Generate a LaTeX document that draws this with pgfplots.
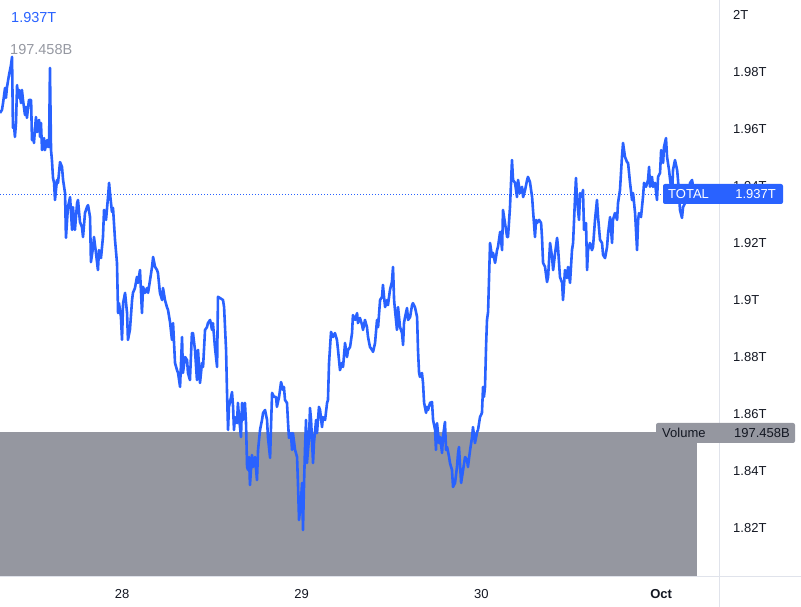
\documentclass[border=0pt]{standalone}
\usepackage{pgfplots}
\usepackage{pgfplotstable}
\usepackage{fontspec}
\setmainfont{Liberation Sans}
\pgfplotsset{compat=1.18}

\definecolor{lineblue}{HTML}{2962FF}
\definecolor{volgray}{RGB}{149,151,160}
\definecolor{textdark}{HTML}{131722}
\definecolor{sepgray}{HTML}{E0E3EB}
\definecolor{topgray}{HTML}{9598A1}

% total market cap, day of month vs trillions
\pgfplotstableread{
d v
27.321 1.9656
27.332 1.9667
27.338 1.9691
27.349 1.9744
27.354 1.9709
27.360 1.9747
27.371 1.9789
27.382 1.9824
27.388 1.9853
27.393 1.9604
27.399 1.9614
27.404 1.9572
27.410 1.9621
27.416 1.9754
27.421 1.9709
27.427 1.9737
27.438 1.9691
27.443 1.9737
27.449 1.9702
27.460 1.9649
27.466 1.9677
27.471 1.9639
27.482 1.9702
27.494 1.9702
27.499 1.9561
27.505 1.9579
27.510 1.9551
27.521 1.9642
27.527 1.9589
27.538 1.9632
27.544 1.9572
27.549 1.9621
27.555 1.9526
27.566 1.9568
27.571 1.9526
27.583 1.9561
27.588 1.9537
27.594 1.9537
27.599 1.9814
27.605 1.9526
27.610 1.9491
27.616 1.9428
27.622 1.9411
27.627 1.9351
27.638 1.9421
27.644 1.9411
27.655 1.9484
27.666 1.9467
27.672 1.9421
27.683 1.9375
27.688 1.9218
27.699 1.9326
27.711 1.9361
27.722 1.9246
27.727 1.9326
27.738 1.9246
27.750 1.9340
27.755 1.9351
27.766 1.9274
27.777 1.9256
27.783 1.9221
27.794 1.9305
27.805 1.9326
27.811 1.9333
27.822 1.9291
27.827 1.9133
27.839 1.9186
27.844 1.9221
27.855 1.9165
27.866 1.9105
27.872 1.9175
27.883 1.9147
27.894 1.9221
27.900 1.9316
27.911 1.9281
27.922 1.9361
27.928 1.9411
27.933 1.9375
27.944 1.9309
27.950 1.9323
27.961 1.9211
27.972 1.9130
27.978 1.8954
27.983 1.8989
27.994 1.8940
28.000 1.8860
28.006 1.8989
28.017 1.9025
28.028 1.8954
28.033 1.8860
28.044 1.8895
28.056 1.9000
28.061 1.9025
28.072 1.9042
28.083 1.9081
28.089 1.9060
28.100 1.9105
28.111 1.8954
28.117 1.9046
28.128 1.9025
28.139 1.9042
28.145 1.9025
28.156 1.9070
28.167 1.9116
28.173 1.9151
28.184 1.9116
28.195 1.9105
28.200 1.9095
28.211 1.9025
28.223 1.9000
28.228 1.9042
28.239 1.9000
28.250 1.8975
28.256 1.8965
28.267 1.8923
28.278 1.8860
28.284 1.8919
28.295 1.8779
28.306 1.8754
28.312 1.8744
28.323 1.8695
28.334 1.8870
28.339 1.8744
28.351 1.8800
28.362 1.8789
28.367 1.8744
28.378 1.8719
28.389 1.8884
28.395 1.8884
28.406 1.8825
28.417 1.8719
28.423 1.8825
28.434 1.8709
28.445 1.8779
28.451 1.8765
28.462 1.8895
28.473 1.8905
28.478 1.8919
28.490 1.8930
28.501 1.8895
28.506 1.8919
28.517 1.8835
28.529 1.8765
28.534 1.9011
28.545 1.9007
28.562 1.9000
28.568 1.8975
28.579 1.8825
28.584 1.8684
28.590 1.8544
28.595 1.8625
28.607 1.8660
28.612 1.8677
28.618 1.8625
28.623 1.8544
28.629 1.8589
28.640 1.8568
28.645 1.8639
28.651 1.8589
28.662 1.8519
28.668 1.8639
28.673 1.8579
28.684 1.8639
28.690 1.8568
28.696 1.8414
28.701 1.8404
28.707 1.8449
28.712 1.8351
28.723 1.8456
28.729 1.8414
28.740 1.8449
28.751 1.8368
28.757 1.8474
28.768 1.8544
28.779 1.8579
28.785 1.8604
28.796 1.8614
28.807 1.8579
28.812 1.8519
28.824 1.8446
28.829 1.8554
28.835 1.8674
28.846 1.8660
28.857 1.8660
28.862 1.8625
28.874 1.8660
28.879 1.8684
28.885 1.8712
28.896 1.8684
28.901 1.8695
28.907 1.8649
28.918 1.8639
28.924 1.8568
28.929 1.8516
28.940 1.8533
28.946 1.8474
28.951 1.8533
28.963 1.8474
28.974 1.8449
28.979 1.8358
28.985 1.8228
28.996 1.8298
29.002 1.8358
29.007 1.8193
29.013 1.8358
29.018 1.8474
29.024 1.8579
29.029 1.8428
29.041 1.8519
29.046 1.8621
29.052 1.8579
29.063 1.8428
29.068 1.8498
29.080 1.8579
29.085 1.8533
29.096 1.8625
29.102 1.8614
29.113 1.8554
29.118 1.8589
29.130 1.8579
29.141 1.8639
29.146 1.8649
29.152 1.8779
29.163 1.8888
29.174 1.8870
29.185 1.8884
29.196 1.8860
29.202 1.8825
29.213 1.8754
29.224 1.8779
29.230 1.8765
29.241 1.8849
29.252 1.8800
29.258 1.8825
29.269 1.8835
29.280 1.8884
29.285 1.8947
29.297 1.8930
29.308 1.8954
29.313 1.8919
29.324 1.8937
29.336 1.8912
29.341 1.8895
29.352 1.8930
29.363 1.8905
29.369 1.8870
29.380 1.8835
29.391 1.8825
29.397 1.8818
29.408 1.8849
29.419 1.8930
29.425 1.8905
29.436 1.9000
29.447 1.9011
29.452 1.9053
29.458 1.9011
29.464 1.8975
29.475 1.9000
29.480 1.8982
29.491 1.9035
29.502 1.9063
29.508 1.9116
29.514 1.9000
29.519 1.8965
29.530 1.8895
29.536 1.8975
29.547 1.8905
29.558 1.8884
29.564 1.8842
29.569 1.8919
29.575 1.8940
29.586 1.8972
29.592 1.8930
29.603 1.8940
29.614 1.8982
29.619 1.8989
29.630 1.8975
29.642 1.8940
29.647 1.8825
29.653 1.8744
29.658 1.8730
29.669 1.8744
29.675 1.8709
29.681 1.8639
29.692 1.8604
29.697 1.8625
29.703 1.8614
29.714 1.8639
29.725 1.8642
29.731 1.8579
29.742 1.8544
29.747 1.8474
29.753 1.8568
29.764 1.8498
29.770 1.8519
29.781 1.8463
29.786 1.8519
29.797 1.8572
29.803 1.8474
29.809 1.8484
29.820 1.8449
29.825 1.8428
29.836 1.8404
29.842 1.8344
29.853 1.8358
29.864 1.8414
29.870 1.8463
29.875 1.8484
29.887 1.8358
29.892 1.8379
29.898 1.8404
29.909 1.8449
29.920 1.8439
29.925 1.8414
29.937 1.8474
29.948 1.8519
29.953 1.8554
29.964 1.8498
29.976 1.8537
29.981 1.8544
29.992 1.8589
30.003 1.8604
30.009 1.8695
30.014 1.8660
30.020 1.8695
30.026 1.8842
30.031 1.8930
30.037 1.8958
30.048 1.9200
30.059 1.9151
30.065 1.9165
30.076 1.9130
30.087 1.9175
30.092 1.9186
30.104 1.9239
30.115 1.9175
30.120 1.9316
30.131 1.9270
30.143 1.9221
30.148 1.9221
30.159 1.9326
30.170 1.9491
30.176 1.9421
30.187 1.9411
30.198 1.9361
30.204 1.9421
30.215 1.9375
30.226 1.9397
30.232 1.9361
30.243 1.9386
30.254 1.9421
30.259 1.9432
30.270 1.9414
30.282 1.9361
30.287 1.9316
30.298 1.9221
30.304 1.9281
30.309 1.9270
30.321 1.9281
30.332 1.9270
30.337 1.9221
30.343 1.9130
30.354 1.9116
30.365 1.9063
30.371 1.9081
30.382 1.9200
30.393 1.9151
30.399 1.9105
30.410 1.9165
30.421 1.9218
30.426 1.9186
30.437 1.9081
30.449 1.9060
30.454 1.9000
30.465 1.9105
30.476 1.9077
30.482 1.9116
30.493 1.9060
30.504 1.9175
30.510 1.9200
30.521 1.9361
30.526 1.9428
30.532 1.9351
30.543 1.9281
30.549 1.9375
30.560 1.9361
30.565 1.9386
30.571 1.9246
30.582 1.9270
30.588 1.9105
30.593 1.9175
30.604 1.9200
30.615 1.9175
30.621 1.9186
30.632 1.9281
30.643 1.9351
30.649 1.9291
30.660 1.9211
30.671 1.9200
30.677 1.9158
30.688 1.9147
30.699 1.9186
30.705 1.9235
30.716 1.9291
30.727 1.9200
30.732 1.9281
30.743 1.9305
30.755 1.9281
30.760 1.9340
30.771 1.9386
30.782 1.9502
30.788 1.9551
30.799 1.9502
30.810 1.9484
30.816 1.9481
30.827 1.9411
30.838 1.9351
30.844 1.9375
30.855 1.9305
30.866 1.9175
30.872 1.9281
30.877 1.9305
30.888 1.9291
30.899 1.9361
30.905 1.9411
30.916 1.9397
30.927 1.9421
30.933 1.9467
30.938 1.9397
30.949 1.9432
30.955 1.9397
30.966 1.9411
30.977 1.9351
30.983 1.9432
30.994 1.9446
31.000 1.9526
31.011 1.9481
31.016 1.9537
31.027 1.9568
31.033 1.9502
31.044 1.9456
31.050 1.9421
31.061 1.9368
31.066 1.9456
31.077 1.9491
31.089 1.9456
31.094 1.9421
31.105 1.9316
31.116 1.9288
31.122 1.9326
31.133 1.9340
31.144 1.9386
31.150 1.9361
31.161 1.9411
31.172 1.9421
31.178 1.9397
31.200 1.9370
}\totaldata

\begin{document}
\begin{tikzpicture}
  \begin{axis}[
    at={(0,0)}, anchor=south west,
    scale only axis,
    width=719pt, height=577pt,
    xmin=27.321, xmax=31.322,
    ymin=1.80281, ymax=2.00526,
    axis line style={draw=none},
    major tick length=0pt,
    xtick={28,29,30,31},
    xticklabels={28,29,30,\textbf{Oct}},
    ytick={1.82,1.84,1.86,1.88,1.9,1.92,1.94,1.96,1.98,2},
    yticklabels={1.82T,1.84T,1.86T,1.88T,1.9T,1.92T,1.94T,1.96T,1.98T,2T},
    yticklabel pos=right,
    /pgf/number format/assume math mode=true,
    ticklabel style={font=\fontsize{13}{15}\selectfont, text=textdark, inner sep=0pt},
    yticklabel style={anchor=west, xshift=14pt},
    xticklabel style={anchor=north, yshift=-12pt},
  ]
    % volume block
    \addplot[fill=volgray, draw=none] coordinates {
      (27.321,1.80281) (27.321,1.8537) (31.200,1.8537) (31.200,1.80281)
    } -- cycle;
    % last price line
    \addplot[lineblue, line width=0.9pt, dash pattern=on 1pt off 2pt] coordinates {
      (27.321,1.937) (31.322,1.937)
    };
    \addplot[lineblue, line width=2.6pt, line join=round] table[x=d, y=v] {\totaldata};
  \end{axis}

  % pane separators
  \draw[sepgray, line width=1pt] (719pt,-30pt) -- (719pt,577pt);
  \draw[sepgray, line width=1pt] (0,0) -- (801pt,0);

  % legend values top left
  \node[anchor=west, inner sep=0pt, text=lineblue, font=\fontsize{14.5}{16}\selectfont] at (11pt,559.5pt) {1.937T};
  \node[anchor=west, inner sep=0pt, text=topgray, font=\fontsize{14.5}{16}\selectfont] at (10pt,527pt) {197.458B};

  % price tag
  \fill[lineblue, rounded corners=2pt] (663pt,373pt) rectangle (783pt,393pt);
  \node[anchor=west, inner sep=0pt, text=white, font=\fontsize{13}{15}\selectfont] at (668pt,383pt) {TOTAL};
  \node[anchor=east, inner sep=0pt, text=white, font=\fontsize{13}{15}\selectfont] at (776pt,383pt) {1.937T};

  % volume tag
  \fill[volgray, rounded corners=2pt] (656pt,134pt) rectangle (795pt,154pt);
  \node[anchor=west, inner sep=0pt, text=textdark, font=\fontsize{13}{15}\selectfont] at (662pt,144pt) {Volume};
  \node[anchor=east, inner sep=0pt, text=textdark, font=\fontsize{13}{15}\selectfont] at (790pt,144pt) {197.458B};

  \pgfresetboundingbox
  \path (0,-30pt) rectangle (801pt,577pt);
\end{tikzpicture}
\end{document}
